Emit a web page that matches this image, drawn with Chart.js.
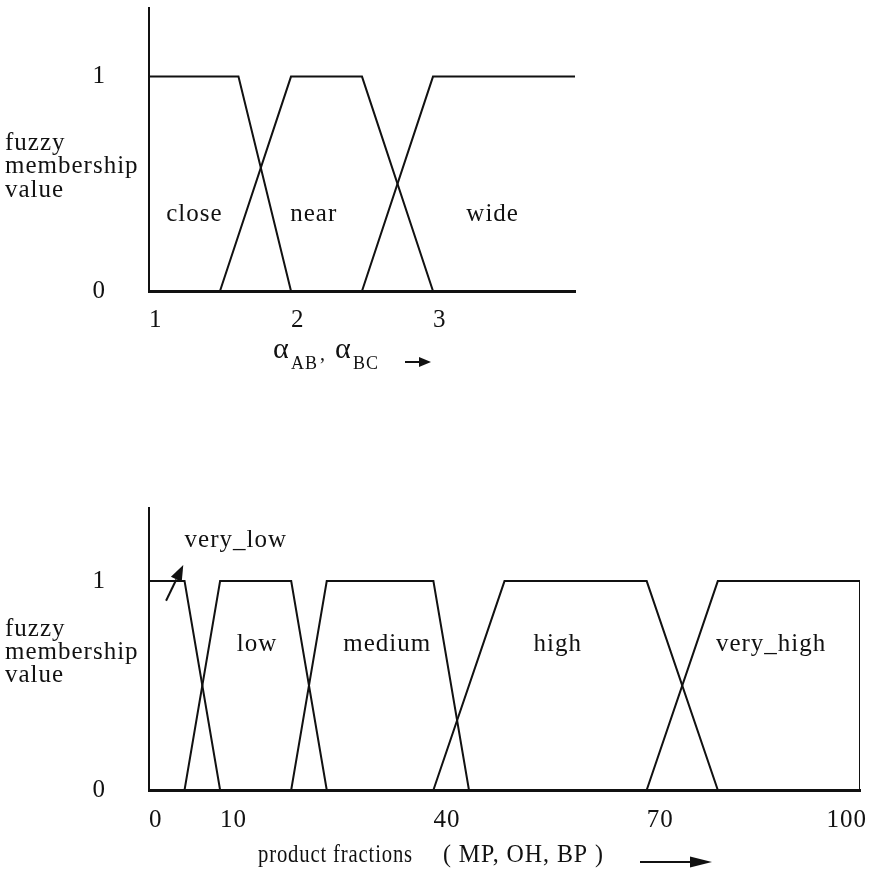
<!DOCTYPE html>
<html>
<head>
<meta charset="utf-8">
<title>Fuzzy membership functions</title>
<script src="https://cdn.jsdelivr.net/npm/chart.js"></script>
<style>
  body { margin: 0; background: #fff; }
  .panel { position: relative; width: 876px; }
  #top { height: 440px; }
  #bottom { height: 437px; }
</style>
</head>
<body>
<div class="panel" id="top"><canvas id="alphaChart"></canvas></div>
<div class="panel" id="bottom"><canvas id="fracChart"></canvas></div>

<script>
// relative volatility sets (top panel)
var alphaNames = ['close', 'near', 'wide'];
var closeX = [1, 1.63, 2],      closeY = [1, 1, 0];
var nearX  = [1.5, 2, 2.5, 3],  nearY  = [0, 1, 1, 0];
var wideX  = [2.5, 3, 4],       wideY  = [0, 1, 1];
var alphaTicks = [1, 2, 3];

// product fraction sets (bottom panel)
var fracNames = ['very_low', 'low', 'medium', 'high', 'very_high'];
var veryLowX  = [0, 5, 10],         veryLowY  = [1, 1, 0];
var lowX      = [5, 10, 20, 25],    lowY      = [0, 1, 1, 0];
var mediumX   = [20, 25, 40, 45],   mediumY   = [0, 1, 1, 0];
var highX     = [40, 50, 70, 80],   highY     = [0, 1, 1, 0];
var veryHighX = [70, 80, 100, 100], veryHighY = [0, 1, 1, 0];
var fracTicks = [0, 10, 40, 70, 100];

var memberTicks = [0, 1];
var sideLines = ['fuzzy', 'membership', 'value'];

var SERIF = "'Liberation Serif', 'Times New Roman', serif";
var INK = '#111';

function put(ctx, s, x, y, size, align, maxW) {
  ctx.font = size + 'px ' + SERIF;
  ctx.textAlign = align || 'left';
  ctx.textBaseline = 'alphabetic';
  if (maxW) ctx.fillText(s, x, y, maxW);
  else ctx.fillText(s, x, y);
}

function arrow(ctx, x1, y1, x2, y2, len, half) {
  var a = Math.atan2(y2 - y1, x2 - x1);
  var bx = x2 - len * Math.cos(a), by = y2 - len * Math.sin(a);
  ctx.lineWidth = 2;
  ctx.beginPath();
  ctx.moveTo(x1, y1);
  ctx.lineTo(bx, by);
  ctx.stroke();
  ctx.beginPath();
  ctx.moveTo(x2, y2);
  ctx.lineTo(bx + half * Math.sin(a), by - half * Math.cos(a));
  ctx.lineTo(bx - half * Math.sin(a), by + half * Math.cos(a));
  ctx.closePath();
  ctx.fill();
}

// draws the texts the book figure puts round the axes
var overlay = {
  id: 'overlay',
  afterDraw: function (chart, args, o) {
    var ctx = chart.ctx, xs = chart.scales.x, ys = chart.scales.y;
    ctx.save();
    ctx.fillStyle = INK;
    ctx.strokeStyle = INK;
    ctx.letterSpacing = '1px';

    sideLines.forEach(function (s, i) { put(ctx, s, 5, o.sideY[i], 25); });

    o.names.forEach(function (n) {
      put(ctx, n.text, xs.getPixelForValue(n.x), ys.getPixelForValue(n.y), 25, 'center');
    });

    var last = o.ticks.length - 1;
    o.ticks.forEach(function (v, i) {
      var px = xs.getPixelForValue(v);
      if (i === last && o.lastRight) put(ctx, String(v), px + 7, o.tickY, 25, 'right');
      else put(ctx, String(v), px, o.tickY, 25, 'left');
    });

    if (o.extra) o.extra(ctx, xs, ys);
    ctx.restore();
  }
};

function series(xArr, yArr) {
  return {
    data: xArr.map(function (x, i) { return { x: x, y: yArr[i] }; }),
    borderColor: INK,
    borderWidth: 2,
    pointRadius: 0,
    tension: 0,
    fill: false
  };
}

function makeChart(id, sets, xMin, xMax, yMax, pad, xAxisH, ov) {
  return new Chart(document.getElementById(id), {
    type: 'line',
    data: { datasets: sets.map(function (s) { return series(s[0], s[1]); }) },
    options: {
      responsive: true,
      maintainAspectRatio: false,
      animation: false,
      layout: { padding: pad },
      plugins: { legend: { display: false }, tooltip: { enabled: false }, overlay: ov },
      scales: {
        x: {
          type: 'linear', min: xMin, max: xMax,
          grid: { display: false, drawTicks: false },
          border: { display: true, color: INK, width: 3 },
          ticks: { display: false },
          afterFit: function (s) { s.height = xAxisH; s.paddingLeft = 0; s.paddingRight = 0; }
        },
        y: {
          min: 0, max: yMax,
          grid: { display: false, drawTicks: false },
          border: { display: true, color: INK, width: 2 },
          ticks: { color: INK, padding: 44, font: { family: SERIF, size: 25 } },
          afterBuildTicks: function (s) { s.ticks = memberTicks.map(function (v) { return { value: v }; }); },
          // the tick padding must not push the plot area down
          afterFit: function (s) { s.width = 149; s.paddingTop = 0; s.paddingBottom = 0; }
        }
      }
    },
    plugins: [overlay]
  });
}

makeChart('alphaChart',
  [[closeX, closeY], [nearX, nearY], [wideX, wideY]],
  1, 4, 1.32, { top: 8, right: 301, left: 0, bottom: 0 }, 149,
  {
    sideY: [150, 173, 197],
    names: [
      { text: alphaNames[0], x: 1.32, y: 0.325 },
      { text: alphaNames[1], x: 2.16, y: 0.325 },
      { text: alphaNames[2], x: 3.42, y: 0.325 }
    ],
    ticks: alphaTicks, tickY: 327, lastRight: false,
    extra: function (ctx) {
      put(ctx, '\u03b1', 273, 358, 30);
      put(ctx, 'AB', 291, 369, 18);
      put(ctx, ',', 320, 360, 20);
      put(ctx, '\u03b1', 335, 358, 30);
      put(ctx, 'BC', 353, 369, 18);
      arrow(ctx, 405, 362, 431, 362, 12, 5);
    }
  });

makeChart('fracChart',
  [[veryLowX, veryLowY], [lowX, lowY], [mediumX, mediumY], [highX, highY], [veryHighX, veryHighY]],
  0, 100, 1.35, { top: 68, right: 16, left: 0, bottom: 0 }, 87,
  {
    sideY: [195.5, 218.5, 242],
    names: [
      { text: fracNames[1], x: 15.2, y: 0.665 },
      { text: fracNames[2], x: 33.5, y: 0.665 },
      { text: fracNames[3], x: 57.5, y: 0.665 },
      { text: fracNames[4], x: 87.5, y: 0.665 }
    ],
    ticks: fracTicks, tickY: 386.7, lastRight: true,
    extra: function (ctx, xs, ys) {
      put(ctx, fracNames[0], xs.getPixelForValue(12.2), ys.getPixelForValue(1.164), 25, 'center');
      arrow(ctx, xs.getPixelForValue(2.4), ys.getPixelForValue(0.906),
        xs.getPixelForValue(4.82), ys.getPixelForValue(1.077), 16, 6);
      put(ctx, 'product fractions', 258, 421.7, 25, 'left', 155);
      put(ctx, '( MP, OH, BP )', 443, 421.7, 25, 'left', 161);
      arrow(ctx, 640, 422, 712, 422, 22, 5.5);
    }
  });
</script>
</body>
</html>
